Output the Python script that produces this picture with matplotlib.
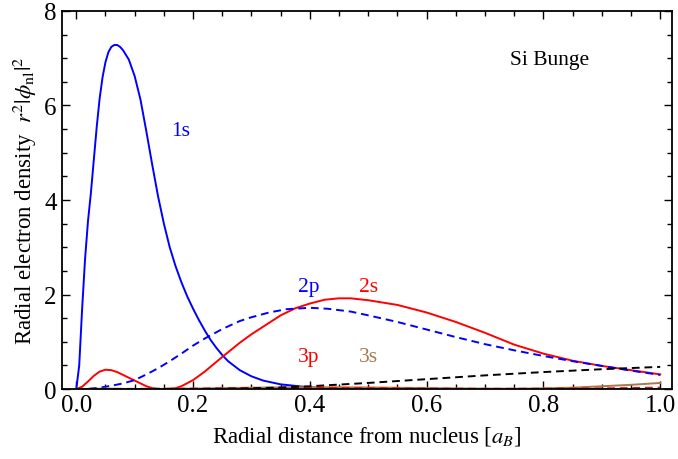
import matplotlib
matplotlib.use("Agg")
import matplotlib.pyplot as plt
from matplotlib.ticker import MultipleLocator

plt.rcParams['font.family'] = ['Liberation Serif', 'DejaVu Serif']
plt.rcParams['mathtext.fontset'] = 'stix'

# radial densities r^2 |phi_nl|^2 for Si (Bunge), read along r in units of a_B
r_1s = [0.0, 0.005, 0.01, 0.015, 0.02, 0.025, 0.03, 0.035, 0.04, 0.045, 0.05,
        0.055, 0.06, 0.065, 0.07, 0.075, 0.08, 0.09, 0.10, 0.11, 0.12, 0.13,
        0.14, 0.15, 0.16, 0.17, 0.18, 0.19, 0.20, 0.21, 0.22, 0.23, 0.24, 0.25,
        0.26, 0.28, 0.30, 0.32, 0.35, 0.40, 0.45, 0.50, 0.60, 0.80, 1.0]
d_1s = [0.0, 0.5, 1.7, 2.75, 3.55, 4.15, 4.85, 5.55, 6.15, 6.6, 6.92,
        7.13, 7.24, 7.28, 7.28, 7.24, 7.17, 6.97, 6.62, 6.12, 5.45, 4.75,
        4.08, 3.5, 3.0, 2.6, 2.26, 1.96, 1.70, 1.46, 1.24, 1.04, 0.87, 0.72,
        0.59, 0.40, 0.27, 0.18, 0.10, 0.035, 0.012, 0.004, 0.0, 0.0, 0.0]

r_2s = [0.0, 0.01, 0.02, 0.03, 0.04, 0.05, 0.06, 0.07, 0.08, 0.09, 0.10, 0.11,
        0.12, 0.13, 0.14, 0.15, 0.16, 0.17, 0.18, 0.20, 0.22, 0.25, 0.28, 0.30,
        0.35, 0.375, 0.40, 0.425, 0.45, 0.47, 0.50, 0.55, 0.60, 0.65, 0.70, 0.75,
        0.80, 0.85, 0.90, 0.95, 1.0]
d_2s = [0.0, 0.05, 0.16, 0.28, 0.37, 0.41, 0.40, 0.36, 0.30, 0.24, 0.18, 0.12,
        0.06, 0.02, 0.003, 0.0, 0.005, 0.02, 0.06, 0.19, 0.37, 0.68, 0.98, 1.16,
        1.56, 1.71, 1.81, 1.89, 1.92, 1.92, 1.88, 1.78, 1.62, 1.42, 1.19, 0.94,
        0.75, 0.60, 0.49, 0.40, 0.31]

r_2p = [0.0, 0.02, 0.04, 0.06, 0.08, 0.10, 0.12, 0.14, 0.16, 0.18, 0.20, 0.22,
        0.25, 0.28, 0.30, 0.33, 0.36, 0.40, 0.43, 0.47, 0.50, 0.55, 0.60, 0.65,
        0.70, 0.75, 0.80, 0.85, 0.90, 0.95, 1.0]
d_2p = [0.0, 0.005, 0.03, 0.07, 0.12, 0.19, 0.31, 0.44, 0.59, 0.75, 0.92, 1.07,
        1.27, 1.44, 1.52, 1.62, 1.69, 1.72, 1.70, 1.64, 1.56, 1.42, 1.26, 1.10,
        0.95, 0.82, 0.70, 0.59, 0.49, 0.39, 0.30]

r_3p = [0.0, 0.20, 0.25, 0.30, 0.35, 0.40, 0.45, 0.50, 0.60, 0.70, 0.80, 0.90, 1.0]
d_3p = [0.0, 0.0, 0.005, 0.015, 0.035, 0.06, 0.095, 0.13, 0.21, 0.29, 0.36, 0.42, 0.47]

r_3s = [0.0, 0.05, 0.10, 0.20, 0.30, 0.40, 0.50, 0.60, 0.70, 0.75, 0.80, 0.85,
        0.90, 0.95, 1.0]
d_3s = [0.0, 0.01, 0.0, 0.01, 0.03, 0.04, 0.035, 0.02, 0.01, 0.008, 0.015, 0.03,
        0.06, 0.09, 0.13]

r_low = [0.0, 0.10, 0.20, 0.30, 0.40, 0.50, 0.60, 0.70, 0.80, 0.90, 1.0]
d_low = [0.0, 0.005, 0.01, 0.02, 0.025, 0.02, 0.01, 0.005, 0.008, 0.015, 0.03]

blue = '#0000ff'
red = '#ff0000'
brown = '#a87a4e'

fig = plt.figure(figsize=(6.78, 4.60), dpi=100)
ax = fig.add_axes([0.091, 0.152, 0.900, 0.822])

lw = 1.4
dash = (0, (4, 2.5))
ax.plot(r_1s, d_1s, color=blue, lw=lw)
ax.plot(r_2s, d_2s, color=red, lw=lw)
ax.plot(r_2p, d_2p, color=blue, lw=lw, ls=dash)
ax.plot(r_3s, d_3s, color=brown, lw=lw)
ax.plot(r_low, d_low, color=red, lw=lw, ls=dash)
ax.plot(r_3p, d_3p, color='black', lw=lw, ls=dash)

fs = 15.5
ax.text(0.179, 5.48, '1s', color=blue, fontsize=fs, ha='center', va='center')
ax.text(0.398, 2.16, '2p', color=blue, fontsize=fs, ha='center', va='center')
ax.text(0.501, 2.16, '2s', color=red, fontsize=fs, ha='center', va='center')
ax.text(0.398, 0.68, '3p', color=red, fontsize=fs, ha='center', va='center')
ax.text(0.501, 0.68, '3s', color=brown, fontsize=fs, ha='center', va='center')
ax.text(0.810, 6.98, 'Si Bunge', color='black', fontsize=fs, ha='center', va='center')

ax.set_xlim(-0.025, 1.02)
ax.set_ylim(0, 8)
ax.xaxis.set_major_locator(MultipleLocator(0.2))
ax.xaxis.set_minor_locator(MultipleLocator(0.05))
ax.yaxis.set_major_locator(MultipleLocator(2))
ax.yaxis.set_minor_locator(MultipleLocator(0.5))
ax.xaxis.set_major_formatter(plt.FuncFormatter(lambda v, p: f'{v:.1f}'))
ax.tick_params(which='both', direction='in', top=True, right=True, labelsize=18, width=1.0)
ax.tick_params(which='major', length=6)
ax.tick_params(which='minor', length=3.5)
for s in ax.spines.values():
    s.set_linewidth(1.3)

ax.set_xlabel('Radial distance from nucleus [$a_B$]', fontsize=16.5, labelpad=6)
ax.set_ylabel(r'Radial electron density  $r^2|\phi_{\rm nl}|^2$', fontsize=16.5, labelpad=4)

fig.savefig('out.png', dpi=100)
